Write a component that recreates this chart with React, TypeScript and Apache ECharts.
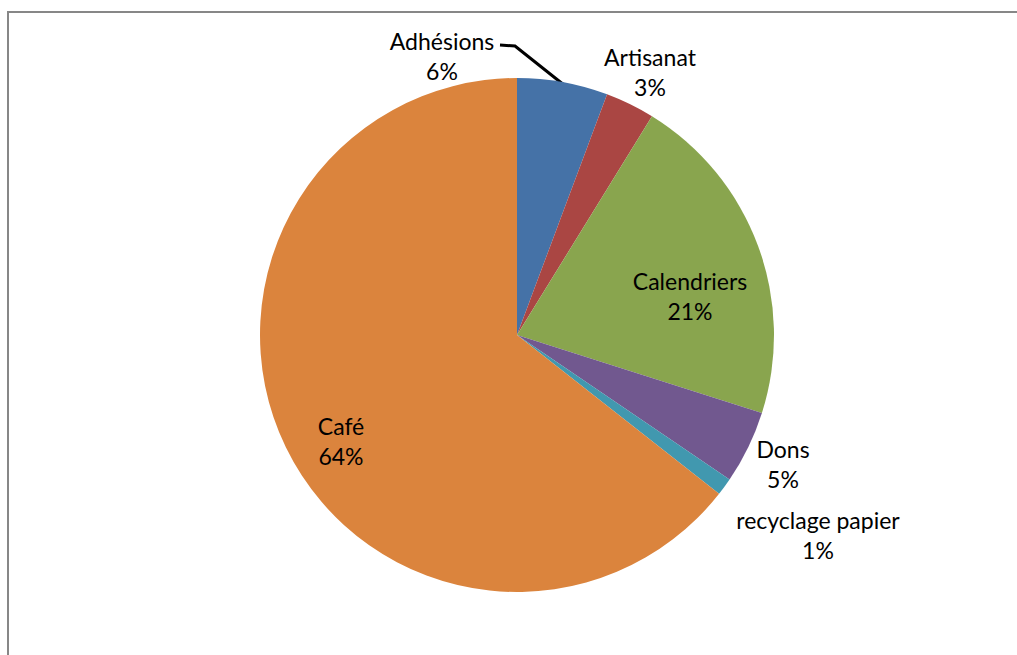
import React, { useEffect, useRef } from "react";
import * as echarts from "echarts";

const categories = ["Adhésions", "Artisanat", "Calendriers", "Dons", "recyclage papier", "Café"];
const values = [5.7, 3.1, 21.1, 4.6, 1.1, 64.4];
const colors = ["#4572A7", "#AA4643", "#89A54E", "#71588F", "#4198AF", "#DB843D"];

// label anchor placement (layout only)
const labelAnchors: [number, number][] = [
  [442, 56],
  [650, 72],
  [690, 296],
  [783, 464],
  [818, 535],
  [341, 441],
];

export default function App() {
  const ref = useRef<HTMLDivElement>(null);
  useEffect(() => {
    if (!ref.current) return;
    const chart = echarts.init(ref.current, null, { renderer: "svg" });
    const font = "Lato, 'Open Sans', sans-serif";
    chart.setOption({
      animation: false,
      backgroundColor: "#ffffff",
      graphic: [
        {
          type: "rect",
          shape: { x: 8, y: 12, width: 1100, height: 700 },
          style: { fill: "none", stroke: "#878787", lineWidth: 2 },
          silent: true,
        },
      ],
      series: [
        {
          type: "pie",
          center: [517, 335],
          radius: 257,
          startAngle: 90,
          clockwise: true,
          percentPrecision: 0,
          avoidLabelOverlap: false,
          data: categories.map((name, i) => ({
            name,
            value: values[i],
            itemStyle: { color: colors[i] },
            labelLine: { show: i === 0 },
          })),
          label: {
            show: true,
            position: "outside",
            formatter: "{b}\n{d}%",
            fontFamily: font,
            fontSize: 23,
            lineHeight: 30,
            color: "#000000",
            align: "center",
          },
          labelLine: {
            show: false,
            lineStyle: { color: "#000000", width: 3 },
          },
          labelLayout: (params: any) => {
            const i = params.dataIndex;
            const [x, y] = labelAnchors[i];
            const out: any = { x, y, align: "center", verticalAlign: "middle" };
            if (i === 0) {
              out.labelLinePoints = [
                [500, 45],
                [515, 46],
                [564, 85],
              ];
            }
            return out;
          },
        },
      ],
    });
    return () => chart.dispose();
  }, []);
  return (
    <div
      ref={ref}
      style={{ position: "fixed", left: 0, top: 0, width: 1017, height: 655 }}
    />
  );
}
